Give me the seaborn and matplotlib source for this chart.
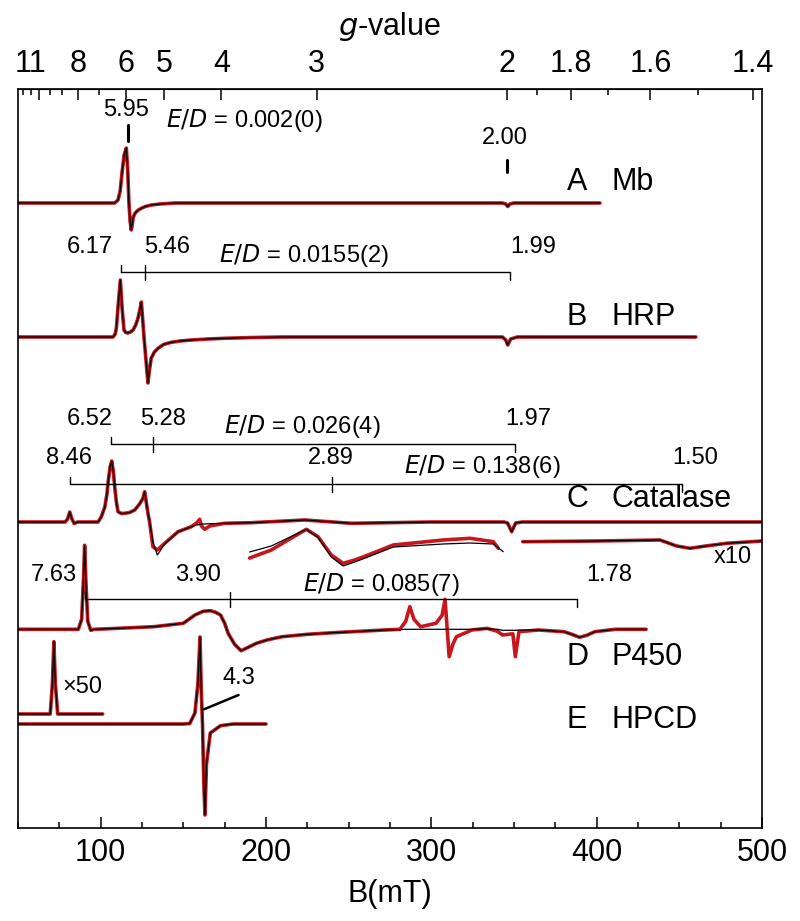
import numpy as np
import matplotlib
matplotlib.use("Agg")
import matplotlib.pyplot as plt
import matplotlib.transforms as mtrans
import seaborn as sns
from matplotlib.ticker import FixedLocator, MultipleLocator

# field positions (mT) and signal (a.u., relative to each trace baseline)
a_field = [50, 108.5, 110.5, 111.8, 112.9, 114.2, 115.5, 116.3, 117.1, 117.8, 118.5, 119.1, 119.6, 120.5,
           121.6, 123, 124.6, 127, 130.6, 136, 145, 343, 345, 346.2, 347.5, 350, 402]
a_signal = [0, 0, 3, 12, 30, 48, 55, 35, 0, -18, -27, -22, -15, -11, -8.7, -6.8, -5.3, -3.5, -2, -1, 0,
            0, -1, -3.5, -1, 0, 0]

b_field = [50, 107.5, 108.8, 109.5, 110.5, 111.9, 112.9, 114.1, 115.2, 116.5, 118, 119.6, 121.2, 122.6,
           123.8, 124.6, 125.4, 126.2, 127.5, 128.6, 129.5, 130.6, 132.5, 134.7, 138, 142.7, 148, 154.8,
           165, 175, 190, 210, 343, 345, 346.2, 348, 352, 460]
b_signal = [0, 0, 3, 9, 30, 57, 30, 7, 4.5, 4, 5, 7, 12, 19, 28, 35, 18, 0, -25, -46, -33, -21, -15,
            -11.3, -7.5, -5.3, -4, -3, -2, -1.3, -0.6, 0, 0, -3, -8, -2, 0, 0]

c_field = [50, 78.5, 80, 81.3, 82.6, 84, 86, 98.4, 100.4, 102.5, 103.8, 104.5, 105.7, 106.7, 107.7, 108.5,
           109.5, 110.5, 112.5, 114.5, 117.5, 120.6, 123.5, 125.6, 126.6, 128.6, 129.6, 131.6, 134.3, 138.7,
           146.8, 154.8, 158, 159.9, 161, 162.9, 166, 175, 191, 223.4, 251.6, 300, 344, 346.1, 348.6, 351,
           355, 500]
c_exp = [0, 0, 3, 10, 3, -1.5, 0, 0, 5.3, 15, 28, 40, 55, 61, 50, 35, 20, 10.3, 8.5, 8.7, 9.5, 12, 18,
         23.7, 30.3, 8.7, 0, -24.7, -28, -21.3, -9.7, -4.7, -1, 2.7, -4, -7.3, -4, -1.3, -0.7, 2, -1.3,
         0, 0, -1, -9.7, -1, 0, 0]
c_sim = [0, 0, 3, 10, 3, -1.5, 0, 0, 5.3, 15, 28, 40, 55, 61, 50, 35, 20, 10.3, 8.5, 8.7, 9.5, 12, 18,
         23.7, 30.3, 8.7, 0, -20, -33, -22, -9.7, -4.7, -3, -2.5, -2.2, -2, -1.7, -1.3, -0.7, 2, -1.3,
         0, 0, -1, -9.7, -1, 0, 0]

# x10 expansions of catalase
c10a_field = [190.1, 203.2, 213.3, 224.4, 231.5, 239.5, 246.6, 253.7, 261.7, 277, 307.2, 323.4, 337.5, 340.5]
c10a_exp = [-36, -28, -18, -7.3, -14.7, -33, -41.3, -38, -33, -23, -18, -16.3, -19.7, -26.3]
c10a_sim_field = [190.1, 203.2, 213.3, 224.4, 231.5, 239.5, 246.6, 253.7, 261.7, 277, 307.2, 323.4, 337.5, 343.5]
c10a_sim = [-30, -24, -16, -7.3, -15.5, -35, -44, -40, -35, -25, -22, -21, -22, -29.7]
c10b_field = [355.3, 400, 438.3, 448.4, 456.5, 466, 478.6, 500]
c10b_signal = [-19.7, -19, -18, -24, -26.3, -24, -21.3, -19]

d_field = [50, 86.5, 88.5, 89.6, 90.3, 91.0, 92.2, 94, 96, 101.2, 132.1, 150, 157, 162, 166.3, 169.5, 172.5,
           175, 177.1, 181, 184.9, 188, 194.2, 201, 209.7, 225, 240.7, 271.7, 281, 284.5, 287, 289.5, 293.5,
           302.8, 306.5, 308.3, 310.8, 313, 315.2, 324.5, 333.7, 340, 343.1, 349.3, 350.8, 353, 364.8, 380.3,
           385, 389.6, 394, 398.9, 411.3, 429.9]
d_exp = [0, 0, 10, 50, 84, 50, 8, -1, 0, 0.3, 2.6, 6, 14.3, 18, 18.6, 17, 14.3, 6, -4, -15, -21.4, -19, -14,
         -10.5, -7.4, -5, -3.4, -0.7, 0, 8, 22.6, 10, 2.6, 6, 14, 30, -27.4, -15, -7.4, -0.7, 1, -2, -5.7,
         -4.5, -27.4, -2.4, -0.7, -2.4, -5, -8, -6, -2.4, 0, 0]
d_sim = [0, 0, 10, 50, 84, 50, 8, -1, 0, 0.3, 2.6, 6, 14.3, 18, 18.6, 17, 14.3, 6, -4, -15, -21.4, -19, -14,
         -10.5, -7.4, -5, -3.4, -0.7, -0.3, 0, 0, 0, 0, 0, 0, 0, 0, 0, 0, 0, 0.5, 0, -1, -1, -1, -0.7, -0.7,
         -2.4, -5, -8, -6, -2.4, 0, 0]

e_field = [50, 150, 153.9, 157, 158.8, 160.1, 160.9, 161.6, 162.4, 163.1, 164, 166.3, 172.5, 180, 200]
e_signal = [0, 0, 0.5, 11, 40, 87, 30, 0, -60, -91, -40, -9, -1.7, 0, 0]
e50_field = [50, 69.5, 70.8, 71.7, 72.6, 74, 101.2]
e50_signal = [10, 10, 40, 82.3, 40, 10, 10]

baselines = [625, 491, 306, 198.7, 104]
samples = ["A", "B", "C", "D", "E"]
proteins = ["Mb", "HRP", "Catalase", "P450", "HPCD"]
label_y = [646, 511, 329, 171, 108]

g_major = [11, 8, 6, 5, 4, 3, 2, 1.8, 1.6, 1.4]
g_major_labels = ["11", "8", "6", "5", "4", "3", "2", "1.8", "1.6", "1.4"]
g_minor = [13, 12, 10, 9, 7, 1.9, 1.7, 1.5]
BG = 692.0  # B(mT) * g at this microwave frequency

RED = "#c8161e"

sns.set_style("ticks")
plt.rcParams["font.family"] = ["Liberation Sans Narrow", "Liberation Sans", "DejaVu Sans"]
plt.rcParams["mathtext.fontset"] = "custom"
plt.rcParams["mathtext.rm"] = "Liberation Sans Narrow"
plt.rcParams["mathtext.it"] = "Liberation Sans Narrow:italic"
for k in ["text.color", "axes.labelcolor", "xtick.color", "ytick.color", "axes.edgecolor"]:
    plt.rcParams[k] = "black"

fig = plt.figure(figsize=(8, 9.21), dpi=100)
ax = fig.add_axes([18 / 800, 1 - 828 / 921, 744 / 800, 739 / 921])


def trace(x, y, base, color, lw):
    sns.lineplot(x=np.array(x, float), y=np.array(y, float) + base, ax=ax, color=color, lw=lw,
                 sort=False, estimator=None, legend=False)


def both(x, y_exp, y_sim, base, x_sim=None):
    trace(x, y_exp, base, RED, 2.6)
    trace(x if x_sim is None else x_sim, y_sim, base, "black", 0.9)


both(a_field, a_signal, a_signal, baselines[0])
both(b_field, b_signal, b_signal, baselines[1])
both(c_field, c_exp, c_sim, baselines[2])
both(c10a_field, c10a_exp, c10a_sim, baselines[2], x_sim=c10a_sim_field)
both(c10b_field, c10b_signal, c10b_signal, baselines[2])
both(d_field, d_exp, d_sim, baselines[3])
both(e_field, e_signal, e_signal, baselines[4])
both(e50_field, e50_signal, e50_signal, baselines[4])

# sample labels
for s, p, yl in zip(samples, proteins, label_y):
    ax.text(382, yl, s, fontsize=22, va="center", ha="left")
    ax.text(409, yl, p, fontsize=22, va="center", ha="left")


def bracket(x0, xm, x1, y):
    ax.plot([x0, x1], [y, y], color="black", lw=1.0)
    ax.plot([x0, x0], [y, y + 7], color="black", lw=1.0)
    ax.plot([xm, xm], [y + 7, y - 8], color="black", lw=1.0)
    ax.plot([x1, x1], [y, y - 8], color="black", lw=1.0)


lab = dict(fontsize=17, ha="center", va="center")
# A
ax.plot([116.3, 116.3], [687, 703], color="black", lw=2.2)
ax.plot([346, 346], [656, 668], color="black", lw=2.2)
ax.text(115.1, 718, "5.95", **lab)
ax.text(186.7, 708, r"$E/D$ = 0.002(0)", **lab)
ax.text(344.6, 690, "2.00", **lab)
# B
bracket(112.2, 126.7, 347.7, 556.3)
ax.text(93.4, 581, "6.17", **lab)
ax.text(139.9, 581, "5.46", **lab)
ax.text(223, 573, r"$E/D$ = 0.0155(2)", **lab)
ax.text(361.5, 581, "1.99", **lab)
# C
bracket(106, 131.5, 350.9, 384)
ax.text(93.4, 408.7, "6.52", **lab)
ax.text(137.7, 408.7, "5.28", **lab)
ax.text(222.2, 401.3, r"$E/D$ = 0.026(4)", **lab)
ax.text(358.5, 408.7, "1.97", **lab)
bracket(81.6, 240.1, 451.6, 344)
ax.text(80.8, 369.7, "8.46", **lab)
ax.text(239.2, 369.7, "2.89", **lab)
ax.text(330.6, 361.3, r"$E/D$ = 0.138(6)", **lab)
ax.text(459.5, 369.7, "1.50", **lab)
ax.text(482.5, 271.3, "x10", **lab)
# D
bracket(90.3, 178, 388, 228.7)
ax.text(71.8, 253, "7.63", **lab)
ax.text(158.6, 253, "3.90", **lab)
ax.text(269.5, 243, r"$E/D$ = 0.085(7)", **lab)
ax.text(407.5, 253, "1.78", **lab)
# E
ax.text(89.2, 141.3, "\u00d750", **lab)
ax.text(183.4, 150, "4.3", **lab)
ax.plot([162.5, 183.4], [118.7, 133], color="black", lw=1.8)

ax.set_xlim(50, 500)
ax.set_ylim(0, 739)
ax.set_yticks([])
ax.set_ylabel("")
ax.xaxis.set_major_locator(FixedLocator([100, 200, 300, 400, 500]))
ax.xaxis.set_minor_locator(MultipleLocator(25))
ax.tick_params(axis="x", which="major", direction="in", length=8, width=1.1, labelsize=22, pad=7)
ax.tick_params(axis="x", which="minor", direction="in", length=4, width=1.1)
ax.set_xlabel("B(mT)", fontsize=22, labelpad=8)
for sp in ax.spines.values():
    sp.set_visible(True)
    sp.set_linewidth(1.2)


def to_g(b):
    b = np.asarray(b, float)
    with np.errstate(divide="ignore"):
        return BG / b


secax = ax.secondary_xaxis("top", functions=(to_g, to_g))
secax.xaxis.set_major_locator(FixedLocator(g_major))
secax.set_xticklabels(g_major_labels)
secax.xaxis.set_minor_locator(FixedLocator(g_minor))
secax.tick_params(axis="x", which="major", direction="in", length=8, width=1.1, labelsize=22, pad=7)
secax.tick_params(axis="x", which="minor", direction="in", length=4, width=1.1)
secax.set_xlabel(r"$g$-value", fontsize=22, labelpad=10)

# the crowded "11" label sits a little to the left of its tick
fig.canvas.draw()
first = secax.xaxis.get_majorticklabels()[0]
first.set_transform(first.get_transform() + mtrans.ScaledTranslation(-9 / 100, 0, fig.dpi_scale_trans))

fig.savefig("out.png", dpi=100)
